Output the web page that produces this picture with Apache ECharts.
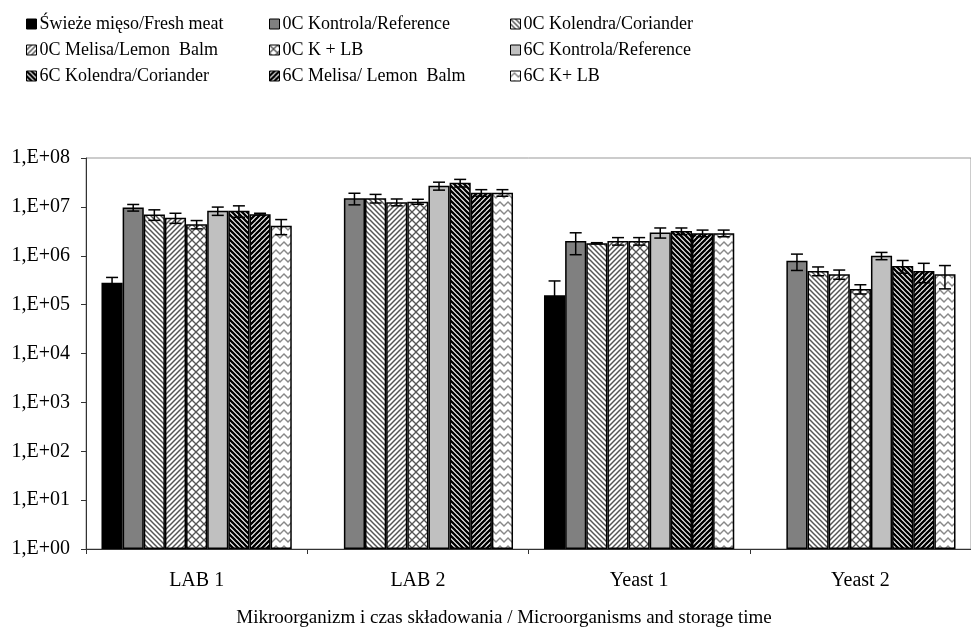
<!DOCTYPE html>
<html><head><meta charset="utf-8">
<script src="https://cdn.jsdelivr.net/npm/echarts@6/dist/echarts.min.js"></script>
<style>html,body{margin:0;padding:0;background:#fff}#c{width:971px;height:630px}</style>
</head><body><div id="c"></div>
<script>
// ---- data ----
const categories = ['LAB 1', 'LAB 2', 'Yeast 1', 'Yeast 2'];
const seriesNames = [
  'Świeże mięso/Fresh meat', '0C Kontrola/Reference', '0C Kolendra/Coriander',
  '0C Melisa/Lemon  Balm', '0C K + LB', '6C Kontrola/Reference',
  '6C Kolendra/Coriander', '6C Melisa/ Lemon  Balm', '6C K+ LB'
];
const freshMeat      = [2.8e5, null, 1.55e5, null];
const freshMeatErr   = [0.8e5, null, 1.5e5, null];
const c0Kontrola     = [9.7e6, 1.5e7, 2.0e6, 7.9e5];
const c0KontrolaErr  = [1.5e6, 4.0e6, 0.95e6, 2.9e5];
const c0Kolendra     = [7.0e6, 1.5e7, 1.8e6, 4.9e5];
const c0KolendraErr  = [1.7e6, 3.0e6, 0.05e6, 1.0e5];
const c0Melisa       = [6.0e6, 1.25e7, 2.0e6, 4.2e5];
const c0MelisaErr    = [1.4e6, 2.0e6, 0.35e6, 0.9e5];
const c0KLB          = [4.4e6, 1.28e7, 2.0e6, 2.1e5];
const c0KLBErr       = [0.85e6, 1.5e6, 0.35e6, 0.45e5];
const c6Kontrola     = [8.3e6, 2.7e7, 3.0e6, 1.0e6];
const c6KontrolaErr  = [1.6e6, 5.0e6, 0.7e6, 1.7e5];
const c6Kolendra     = [8.3e6, 3.1e7, 3.2e6, 6.2e5];
const c6KolendraErr  = [2.2e6, 5.5e6, 0.5e6, 1.8e5];
const c6Melisa       = [7.1e6, 1.95e7, 2.9e6, 4.9e5];
const c6MelisaErr    = [0.3e6, 3.0e6, 0.45e6, 2.1e5];
const c6KLB          = [4.1e6, 1.95e7, 2.9e6, 4.2e5];
const c6KLBErr       = [1.4e6, 3.0e6, 0.45e6, 2.1e5];
const yTickLabels = ['1,E+00','1,E+01','1,E+02','1,E+03','1,E+04','1,E+05','1,E+06','1,E+07','1,E+08'];
const xTitle = 'Mikroorganizm i czas składowania / Microorganisms and storage time';

const values = [freshMeat, c0Kontrola, c0Kolendra, c0Melisa, c0KLB, c6Kontrola, c6Kolendra, c6Melisa, c6KLB];
const errors = [freshMeatErr, c0KontrolaErr, c0KolendraErr, c0MelisaErr, c0KLBErr, c6KontrolaErr, c6KolendraErr, c6MelisaErr, c6KLBErr];

// ---- fill patterns ----
function pat(kind) {
  const s = (kind === 'cross' || kind === 'zig') ? 8 : 5;
  const cv = document.createElement('canvas');
  cv.width = s; cv.height = s;
  const g = cv.getContext('2d');
  g.fillStyle = '#fff'; g.fillRect(0, 0, s, s);
  g.lineCap = 'square';
  if (kind === 'back' || kind === 'backDark') {
    g.strokeStyle = kind === 'back' ? '#555' : '#000';
    g.lineWidth = kind === 'back' ? 1.5 : 2.4;
    for (const x0 of [-s, 0, s]) { g.beginPath(); g.moveTo(x0, 0); g.lineTo(x0 + s, s); g.stroke(); }
  } else if (kind === 'fwd' || kind === 'fwdDark') {
    g.strokeStyle = kind === 'fwd' ? '#555' : '#000';
    g.lineWidth = kind === 'fwd' ? 1.5 : 2.4;
    for (const x0 of [-s, 0, s]) { g.beginPath(); g.moveTo(x0, s); g.lineTo(x0 + s, 0); g.stroke(); }
  } else if (kind === 'cross') {
    g.strokeStyle = '#555'; g.lineWidth = 1.3;
    for (const x0 of [-s, 0, s]) {
      g.beginPath(); g.moveTo(x0, 0); g.lineTo(x0 + s, s); g.stroke();
      g.beginPath(); g.moveTo(x0, s); g.lineTo(x0 + s, 0); g.stroke();
    }
  } else if (kind === 'zig') {
    g.strokeStyle = '#888'; g.lineWidth = 1.4;
    g.beginPath(); g.moveTo(0, 6); g.lineTo(4, 2); g.lineTo(8, 6); g.stroke();
  }
  return { image: cv, repeat: 'repeat' };
}
const fills = ['#000000', '#808080', pat('back'), pat('fwd'), pat('cross'), '#c0c0c0', pat('backDark'), pat('fwdDark'), pat('zig')];

const FONT = 'Liberation Serif';
const GAP = 0.14;

const barSeries = seriesNames.map((name, i) => ({
  name, type: 'bar', data: values[i],
  barGap: '0%', barCategoryGap: (GAP * 100) + '%',
  itemStyle: { color: fills[i], borderColor: '#000', borderWidth: 1.5 },
  z: 2
}));

const errData = [];
values.forEach((arr, si) => arr.forEach((v, ci) => {
  if (v != null) errData.push([ci, si, v, errors[si][ci]]);
}));

const errSeries = {
  type: 'custom', z: 5, silent: true,
  encode: { x: 0, y: 2 },
  data: errData,
  renderItem(params, api) {
    const ci = api.value(0), si = api.value(1), v = api.value(2), e = api.value(3);
    const catW = api.size([1, 1])[0];
    const groupW = catW * (1 - GAP);
    const bw = groupW / 9;
    const cx = api.coord([ci, v])[0] - groupW / 2 + bw * (si + 0.5);
    const yTop = api.coord([ci, v + e])[1];
    const yBot = api.coord([ci, Math.max(v - e, 1)])[1];
    const hw = 6;
    const st = { stroke: '#000', lineWidth: 1.5 };
    return { type: 'group', children: [
      { type: 'line', shape: { x1: cx, y1: yTop, x2: cx, y2: yBot }, style: st },
      { type: 'line', shape: { x1: cx - hw, y1: yTop, x2: cx + hw, y2: yTop }, style: st },
      { type: 'line', shape: { x1: cx - hw, y1: yBot, x2: cx + hw, y2: yBot }, style: st }
    ]};
  }
};

function legendCol(left, idxs) {
  return {
    orient: 'vertical', left, top: 10, itemGap: 8,
    itemWidth: 10, itemHeight: 10, icon: 'rect', selectedMode: false,
    data: idxs.map(i => seriesNames[i]),
    itemStyle: { borderColor: '#000', borderWidth: 1 },
    textStyle: { fontFamily: FONT, fontSize: 18, color: '#000', lineHeight: 18, padding: [0, 0, 0, -2] }
  };
}

const chart = echarts.init(document.getElementById('c'), null, { renderer: 'canvas' });
chart.setOption({
  animation: false,
  backgroundColor: '#fff',
  legend: [legendCol(21, [0, 3, 6]), legendCol(264, [1, 4, 7]), legendCol(505, [2, 5, 8])],
  grid: { left: 86, top: 158, width: 894, height: 391, show: true, borderColor: '#999', borderWidth: 1, backgroundColor: 'transparent' },
  xAxis: {
    type: 'category', data: categories,
    axisLine: { lineStyle: { color: '#333', width: 1 } },
    axisTick: { show: true, length: 5, alignWithLabel: false, interval: 0, lineStyle: { color: '#333' } },
    axisLabel: { fontFamily: FONT, fontSize: 20, color: '#000', margin: 22, interval: 0 }
  },
  yAxis: {
    type: 'log', logBase: 10, min: 1, max: 1e8, interval: 1,
    axisLine: { show: true, lineStyle: { color: '#333', width: 1 } },
    axisTick: { show: true, length: 5, lineStyle: { color: '#333' } },
    splitLine: { show: false },
    axisLabel: {
      fontFamily: FONT, fontSize: 20, color: '#000', margin: 16,
      formatter: v => yTickLabels[Math.round(Math.log10(v))]
    }
  },
  graphic: [{
    type: 'text', x: 504, y: 618,
    style: { text: xTitle, fontFamily: FONT, fontSize: 19, fill: '#000', align: 'center', verticalAlign: 'middle' }
  }],
  series: [...barSeries, errSeries]
});
</script>
</body></html>
